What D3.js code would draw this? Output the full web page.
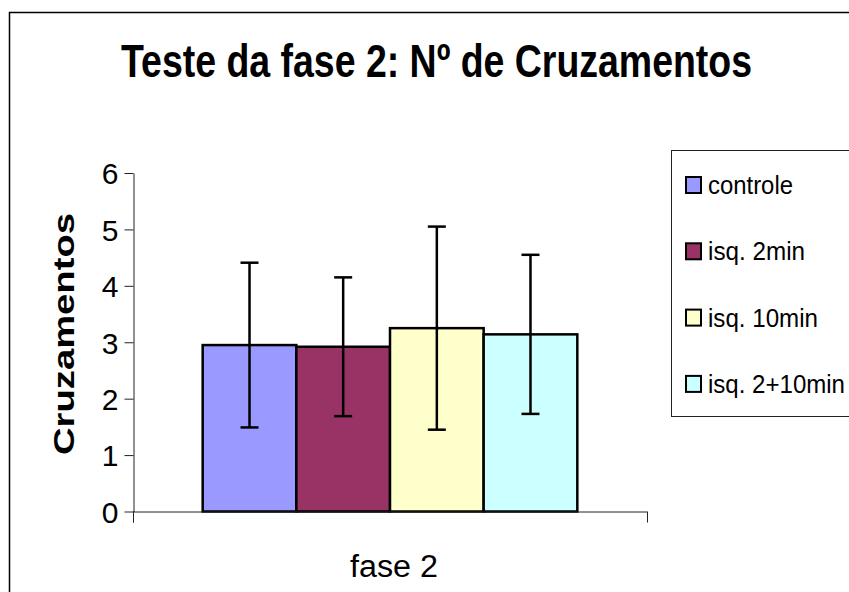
<!DOCTYPE html>
<html>
<head>
<meta charset="utf-8">
<script src="https://cdn.jsdelivr.net/npm/d3@7"></script>
<style>
  html, body { margin: 0; padding: 0; background: #fff; }
  svg { display: block; font-family: 'Liberation Sans', Arial, sans-serif; }
</style>
</head>
<body>
<svg id="chart" width="849" height="592"></svg>
<script>
// data
const categories = ['fase 2'];
const seriesNames = ['controle', 'isq. 2min', 'isq. 10min', 'isq. 2+10min'];
const seriesColors = ['#9999FF', '#993366', '#FFFFCC', '#CCFFFF'];
const means = [2.95, 2.92, 3.25, 3.14];
const errors = [1.46, 1.23, 1.80, 1.41];
const yTicks = [0, 1, 2, 3, 4, 5, 6];

const svg = d3.select('#chart');
const margin = { top: 173, right: 202, bottom: 80.5, left: 133 };
const width = +svg.attr('width');
const height = +svg.attr('height');

// outer chart frame (cut off on right and bottom in the reference)
svg.append('rect')
  .attr('x', 9.5).attr('y', 12.5)
  .attr('width', 900).attr('height', 700)
  .attr('fill', '#fff')
  .attr('stroke', '#000')
  .attr('stroke-width', 1.5);

const y = d3.scaleLinear()
  .domain([0, 6])
  .range([height - margin.bottom, margin.top]);

const x0 = d3.scaleBand()
  .domain(categories)
  .range([margin.left, width - margin.right])
  .paddingInner(0)
  .paddingOuter(0.186);

const x1 = d3.scaleBand()
  .domain(seriesNames)
  .range([0, x0.bandwidth()])
  .padding(0);

// title
svg.append('text')
  .attr('x', 121).attr('y', 77)
  .attr('font-size', 46)
  .attr('font-weight', 'bold')
  .attr('textLength', 631)
  .attr('lengthAdjust', 'spacingAndGlyphs')
  .text('Teste da fase 2: Nº de Cruzamentos');

// y axis
const yAxis = svg.append('g')
  .attr('transform', `translate(${margin.left + 0.5},0)`)
  .call(d3.axisLeft(y).tickValues(yTicks).tickFormat(d3.format('d'))
    .tickSize(9).tickSizeOuter(0).tickPadding(6));
yAxis.selectAll('path, line').attr('stroke', '#222').attr('stroke-width', 1);
yAxis.selectAll('text')
  .attr('font-size', 30)
  .attr('font-family', "'Liberation Sans', Arial, sans-serif")
  .attr('fill', '#000')
  .attr('dy', '0.36em');
// axis line continues below zero to the category tick
yAxis.append('line')
  .attr('x1', 0).attr('x2', 0)
  .attr('y1', y(0)).attr('y2', y(0) + 11)
  .attr('stroke', '#222');

// y axis title
svg.append('text')
  .attr('transform', `translate(74,334) rotate(-90)`)
  .attr('text-anchor', 'middle')
  .attr('font-size', 30)
  .attr('font-weight', 'bold')
  .attr('textLength', 242)
  .attr('lengthAdjust', 'spacingAndGlyphs')
  .text('Cruzamentos');

// bars
const group = svg.append('g')
  .selectAll('g')
  .data(categories)
  .join('g')
  .attr('transform', d => `translate(${x0(d)},0)`);

group.selectAll('rect')
  .data(() => seriesNames.map((name, i) => ({ name, value: means[i], err: errors[i], color: seriesColors[i] })))
  .join('rect')
  .attr('x', d => x1(d.name))
  .attr('y', d => y(d.value))
  .attr('width', x1.bandwidth())
  .attr('height', d => y(0) - y(d.value))
  .attr('fill', d => d.color)
  .attr('stroke', '#000')
  .attr('stroke-width', 2.5);

// x axis (category axis, ticks at band edges)
const xAxisG = svg.append('g');
xAxisG.append('line')
  .attr('x1', margin.left).attr('x2', width - margin.right)
  .attr('y1', y(0) + 0.5).attr('y2', y(0) + 0.5)
  .attr('stroke', '#222');
xAxisG.selectAll('line.tick')
  .data(x0.range())
  .join('line')
  .attr('class', 'tick')
  .attr('x1', d => d + 0.5).attr('x2', d => d + 0.5)
  .attr('y1', y(0)).attr('y2', y(0) + 11)
  .attr('stroke', '#222');
xAxisG.selectAll('text')
  .data(categories)
  .join('text')
  .attr('x', d => x0(d) + x0.bandwidth() / 2 + 4)
  .attr('y', 577)
  .attr('text-anchor', 'middle')
  .attr('font-size', 31)
  .attr('textLength', 88)
  .attr('lengthAdjust', 'spacingAndGlyphs')
  .text(d => d);

// error bars
const errG = group.selectAll('g.err')
  .data(() => seriesNames.map((name, i) => ({ name, value: means[i], err: errors[i] })))
  .join('g')
  .attr('class', 'err')
  .attr('transform', d => `translate(${x1(d.name) + x1.bandwidth() / 2},0)`);
errG.append('line')
  .attr('y1', d => y(d.value + d.err)).attr('y2', d => y(d.value - d.err))
  .attr('stroke', '#000').attr('stroke-width', 2.5);
errG.append('line')
  .attr('x1', -9).attr('x2', 9)
  .attr('y1', d => y(d.value + d.err)).attr('y2', d => y(d.value + d.err))
  .attr('stroke', '#000').attr('stroke-width', 2.5);
errG.append('line')
  .attr('x1', -9).attr('x2', 9)
  .attr('y1', d => y(d.value - d.err)).attr('y2', d => y(d.value - d.err))
  .attr('stroke', '#000').attr('stroke-width', 2.5);

// legend
const legend = svg.append('g');
legend.append('rect')
  .attr('x', 671.5).attr('y', 150.5)
  .attr('width', 300).attr('height', 266)
  .attr('fill', '#fff')
  .attr('stroke', '#222')
  .attr('stroke-width', 1);

const legendWidths = [85, 97, 110, 137];
const item = legend.selectAll('g.item')
  .data(seriesNames)
  .join('g')
  .attr('class', 'item')
  .attr('transform', (d, i) => `translate(686,${185 + i * 66.3})`);
item.append('rect')
  .attr('x', 0).attr('y', -8)
  .attr('width', 15).attr('height', 16)
  .attr('fill', (d, i) => seriesColors[i])
  .attr('stroke', '#000')
  .attr('stroke-width', 2);
item.append('text')
  .attr('x', 22).attr('y', 9)
  .attr('font-size', 26)
  .attr('textLength', (d, i) => legendWidths[i])
  .attr('lengthAdjust', 'spacingAndGlyphs')
  .text(d => d);
</script>
</body>
</html>
